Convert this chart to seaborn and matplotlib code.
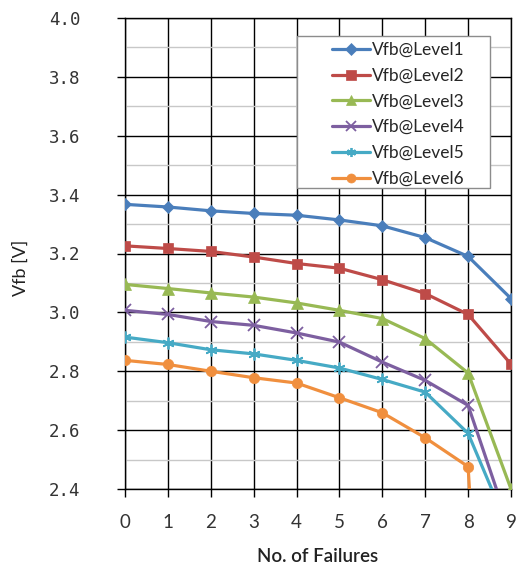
import numpy as np
import pandas as pd
import matplotlib
matplotlib.use("Agg")
import matplotlib.pyplot as plt
import seaborn as sns
from matplotlib.ticker import MultipleLocator
from matplotlib.patches import Rectangle

failures = [0, 1, 2, 3, 4, 5, 6, 7, 8, 9]
level1 = [3.367, 3.358, 3.345, 3.336, 3.330, 3.314, 3.294, 3.254, 3.190, 3.047]
level2 = [3.226, 3.217, 3.207, 3.188, 3.166, 3.150, 3.111, 3.064, 2.993, 2.824]
level3 = [3.095, 3.081, 3.066, 3.052, 3.032, 3.007, 2.979, 2.911, 2.794, 2.400]
level4 = [3.007, 2.993, 2.969, 2.956, 2.930, 2.899, 2.831, 2.769, 2.684, 2.254]
level5 = [2.916, 2.897, 2.873, 2.859, 2.837, 2.811, 2.772, 2.729, 2.589, 2.245]
level6 = [2.837, 2.823, 2.800, 2.778, 2.760, 2.710, 2.659, 2.574, 2.476, 0.0]
series_names = ["Vfb@Level1", "Vfb@Level2", "Vfb@Level3", "Vfb@Level4", "Vfb@Level5", "Vfb@Level6"]
y_ticks = [2.4, 2.6, 2.8, 3.0, 3.2, 3.4, 3.6, 3.8, 4.0]

colors = ["#4A7EBB", "#BE4B48", "#98B954", "#7D5FA0", "#46AAC5", "#F08F3E"]
markers = ["D", "s", "^", "x", (6, 2, 0), "o"]
sizes = [6.5, 7.5, 8, 8, 8.5, 7.5]

rows = []
for name, vals in zip(series_names, [level1, level2, level3, level4, level5, level6]):
    for x, v in zip(failures, vals):
        rows.append({"No. of Failures": x, "Vfb": v, "series": name})
df = pd.DataFrame(rows)

sns.set_style("white")
plt.rcParams["font.family"] = ["Lato", "DejaVu Sans"]

fig = plt.figure(figsize=(5.21, 5.66), dpi=100)
ax = fig.add_axes([125 / 521, 1 - 489 / 566, (511 - 125) / 521, (489 - 18) / 566])

for i, name in enumerate(series_names):
    sub = df[df["series"] == name]
    sns.lineplot(data=sub, x="No. of Failures", y="Vfb", ax=ax, color=colors[i],
                 marker=markers[i], markersize=sizes[i], linewidth=2.3,
                 markeredgecolor=colors[i], markeredgewidth=1.3 if i in (3, 4) else 0.5,
                 label=name, zorder=5)

ax.set_xlim(0, 9)
ax.set_ylim(2.4, 4.0)
ax.set_xticks(failures)
ax.set_yticks(y_ticks)
ax.set_yticklabels([f"{t:.1f}" for t in y_ticks], family="DejaVu Sans Mono")
ax.yaxis.set_minor_locator(MultipleLocator(0.1))
ax.grid(which="minor", axis="y", color="#c8c8c8", linewidth=1.0, zorder=0)
ax.grid(which="major", axis="both", color="#000000", linewidth=1.0, zorder=1)
ax.set_axisbelow(True)
for s in ax.spines.values():
    s.set_color("#000000")
    s.set_linewidth(1.0)
ax.tick_params(axis="both", which="major", length=6, width=1, color="#000000",
               direction="out", labelcolor="#333333")
ax.tick_params(axis="y", which="major", labelsize=12.5, pad=26)
ax.tick_params(axis="x", which="major", labelsize=13.5, pad=12)
ax.tick_params(axis="y", which="minor", length=0)
ax.tick_params(left=True, bottom=True)
ax.set_xlabel("No. of Failures", fontsize=13.5, color="#222222", labelpad=12,
              fontweight="semibold")
ax.set_ylabel("Vfb [V]", fontsize=13, color="#222222", labelpad=20)
ax.yaxis.set_label_coords(-0.25, 0.47)

# legend frame (Excel-style, wider than content)
frame = Rectangle((0.446, 0.639), 0.500, 0.323, transform=ax.transAxes,
                  facecolor="white", edgecolor="#8c8c8c", linewidth=1.0, zorder=9)
ax.add_patch(frame)
leg = ax.legend(loc="upper left", bbox_to_anchor=(0.535, 0.949), frameon=False,
                fontsize=12.5, handlelength=2.2, labelspacing=0.56,
                borderpad=0.0, handletextpad=0.15, borderaxespad=0.0)
for h in leg.legend_handles:
    h.set_markersize(6.5)
leg.set_zorder(10)

fig.savefig("out.png", dpi=100)
